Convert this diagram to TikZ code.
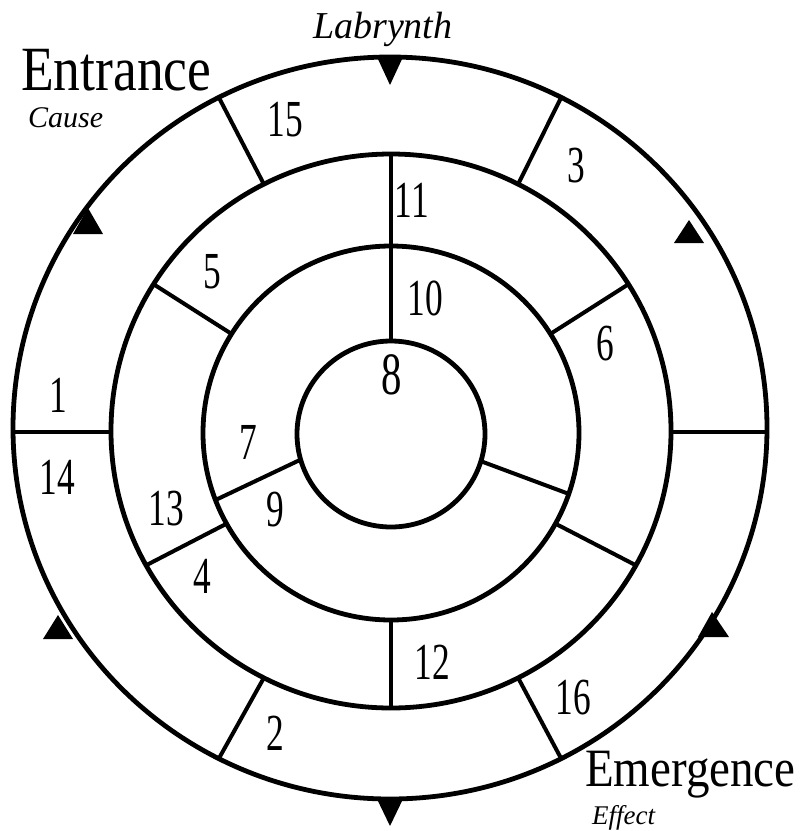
\documentclass[tikz,border=0pt]{standalone}
\usepackage{fontspec}
\usepackage{graphicx}
\setmainfont{Liberation Serif}
\usetikzlibrary{calc}
\newcommand\nm[1]{\scalebox{0.68}[1]{#1}}
\begin{document}
\begin{tikzpicture}[x=1pt,y=-1pt,
  ring/.style={line width=4.8pt},
  seg/.style={line width=4pt},
  num/.style={inner sep=0pt,font=\fontsize{52}{52}\selectfont},
  arrowtri/.style={fill=black},
  bigword/.style={inner sep=0pt,anchor=base west},
  scriptword/.style={inner sep=0pt,anchor=base west,font=\itshape}]
\useasboundingbox (0,0) rectangle (811,831);
\coordinate (Co) at (390,428);
\coordinate (Cb) at (391,431);
\coordinate (Cc) at (391,433);
\coordinate (Ci) at (391,434);
% circles
\draw[ring] (Co) ellipse [x radius=377, y radius=371];
\draw[ring] (Cb) ellipse [x radius=280, y radius=277];
\draw[ring] (Cc) ellipse [x radius=188, y radius=187];
\draw[ring] (Ci) ellipse [x radius=94, y radius=93];
% outer ring dividers
\draw[seg] (111,432) -- (13,432);
\draw[seg] (671,432) -- (767,432);
\foreach \a in {63,117,243,297}
  \draw[seg] ($(Cb)+(-\a:280 and 277)$) -- ($(Co)+(-\a:377 and 371)$);
% second ring dividers
\foreach \a in {148,32,209,331}
  \draw[seg] ($(Cc)+(-\a:188 and 187)$) -- ($(Cb)+(-\a:280 and 277)$);
\draw[seg] ($(Ci)+(-90:94 and 93)$) -- ($(Cb)+(-90:280 and 277)$);
\draw[seg] ($(Cc)+(-270:188 and 187)$) -- ($(Cb)+(-270:280 and 277)$);
% third ring dividers
\draw[seg] ($(Ci)+(-196:94 and 93)$) -- ($(Cc)+(-201:188 and 187)$);
\draw[seg] ($(Ci)+(-343:94 and 93)$) -- ($(Cc)+(-341:188 and 187)$);
% arrow triangles
\fill[arrowtri] (377,57) -- (403,57) -- (390,85) -- cycle;
\fill[arrowtri] (377,799) -- (403,799) -- (390,826) -- cycle;
\fill[arrowtri] (73,234) -- (103,234) -- (88,208) -- cycle;
\fill[arrowtri] (674,243) -- (704,243) -- (689,220) -- cycle;
\fill[arrowtri] (43,639) -- (73,639) -- (58,615) -- cycle;
\fill[arrowtri] (698,637) -- (729,637) -- (712,612) -- cycle;
% numbers
\node[num] (n15) at (285,120) {\nm{15}};
\node[num] (n3) at (576,166) {\nm{3}};
\node[num] (n11) at (412,200) {\nm{11}};
\node[num] (n5) at (212,272) {\nm{5}};
\node[num] (n10) at (425,298) {\nm{10}};
\node[num] (n6) at (605,344) {\nm{6}};
\node[num,font=\fontsize{60}{60}\selectfont] (n8) at (392,375) {\nm{8}};
\node[num] (n1) at (58,395) {\nm{1}};
\node[num] (n14) at (57,477) {\nm{14}};
\node[num] (n7) at (248,442) {\nm{7}};
\node[num] (n13) at (166,509) {\nm{13}};
\node[num] (n9) at (275,510) {\nm{9}};
\node[num] (n4) at (202,576) {\nm{4}};
\node[num] (n12) at (432,662) {\nm{12}};
\node[num] (n16) at (573,698) {\nm{16}};
\node[num] (n2) at (275,733) {\nm{2}};
% words
\node[bigword,font=\fontsize{63}{63}\selectfont] (entr) at (21,90) {\scalebox{0.85}[1]{Entrance}};
\node[scriptword,font=\itshape\fontsize{30}{30}\selectfont] (cause) at (28,127) {Cause};
\node[scriptword,font=\itshape\fontsize{38}{38}\selectfont] (lab) at (313,38) {Labrynth};
\node[bigword,font=\fontsize{54}{54}\selectfont] (emer) at (585,786) {\scalebox{0.87}[1]{Emergence}};
\node[scriptword,font=\itshape\fontsize{27}{27}\selectfont] (eff) at (592,824) {Effect};
\end{tikzpicture}
\end{document}
